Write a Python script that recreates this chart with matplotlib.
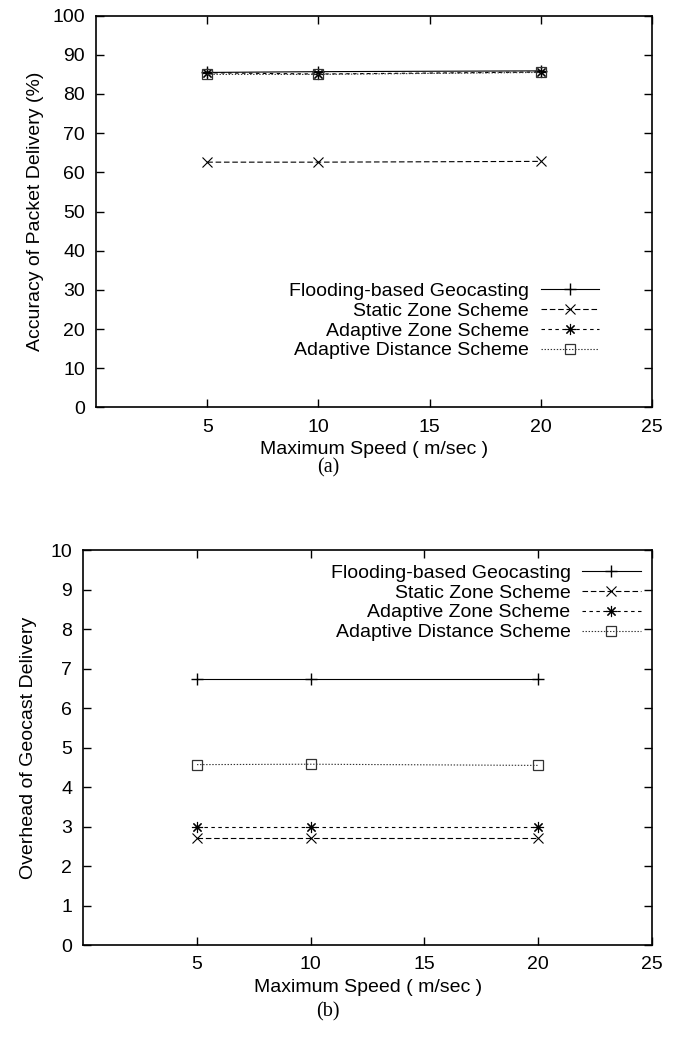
import matplotlib
matplotlib.use("Agg")
import matplotlib.pyplot as plt

plt.rcParams['font.family'] = ['Liberation Sans', 'DejaVu Sans']
plt.rcParams['lines.scale_dashes'] = False

# data
speed = [5, 10, 20]
names = ['Flooding-based Geocasting', 'Static Zone Scheme',
         'Adaptive Zone Scheme', 'Adaptive Distance Scheme']

acc_flood = [85.5, 85.7, 85.9]
acc_static = [62.6, 62.6, 62.8]
acc_azone = [85.4, 85.1, 85.6]
acc_adist = [85.0, 85.0, 85.5]

ovh_flood = [6.75, 6.75, 6.75]
ovh_static = [2.7, 2.7, 2.7]
ovh_azone = [3.0, 3.0, 3.0]
ovh_adist = [4.57, 4.58, 4.55]

styles = [
    dict(color='black', ls='-', marker='+', ms=9, mew=1.0),
    dict(color='black', ls=(0, (4, 2)), marker='x', ms=7, mew=0.8),
    dict(color='black', ls=(0, (2.5, 2.5)), marker=(8, 2, 0), ms=8, mew=0.8),
    dict(color='#333333', ls=(0, (1, 1.2)), marker='s', ms=7, mew=0.9, mfc='none'),
]

FS = 14

fig = plt.figure(figsize=(6.77, 10.42), dpi=100)
ax1 = fig.add_axes([0.142, 0.609, 0.821, 0.376])
ax2 = fig.add_axes([0.123, 0.093, 0.840, 0.379])


def style_axes(ax):
    ax.set_xlim(0, 25)
    ax.set_xticks([5, 10, 15, 20, 25])
    ax.tick_params(direction='in', top=True, right=True, length=6, width=1,
                   labelsize=FS)
    ax.tick_params(axis='y', pad=8)
    ax.tick_params(axis='x', pad=8)
    for s in ax.spines.values():
        s.set_linewidth(1.2)
    ax.set_xlabel('Maximum Speed ( m/sec )', fontsize=FS, labelpad=4)


series1 = [acc_flood, acc_static, acc_azone, acc_adist]
series2 = [ovh_flood, ovh_static, ovh_azone, ovh_adist]

for ax, series in ((ax1, series1), (ax2, series2)):
    for name, ys, st in zip(names, series, styles):
        ax.plot(speed, ys, lw=0.8, label=name, **st)
    style_axes(ax)

ax1.set_ylim(0, 100)
ax1.set_yticks(range(0, 101, 10))
ax1.set_ylabel('Accuracy of Packet Delivery (%)', fontsize=FS, labelpad=6)

ax2.set_ylim(0, 10)
ax2.set_yticks(range(0, 11))
ax2.set_ylabel('Overhead of Geocast Delivery', fontsize=FS, labelpad=10)

for ax, anchor in ((ax1, (0.905, 0.32)), (ax2, (0.98, 0.965))):
    leg = ax.legend(loc='upper right', bbox_to_anchor=anchor, frameon=False,
                    markerfirst=False, fontsize=FS, handlelength=3.0,
                    handletextpad=0.6, labelspacing=0.12, borderpad=0,
                    borderaxespad=0)
    for col in leg._legend_handle_box.get_children():
        col.align = 'right'

fig.text(0.485, 0.551, '(a)', ha='center', va='center', fontsize=14.5,
         family='Liberation Serif')
fig.text(0.485, 0.029, '(b)', ha='center', va='center', fontsize=14.5,
         family='Liberation Serif')

fig.savefig('out.png', dpi=100)
